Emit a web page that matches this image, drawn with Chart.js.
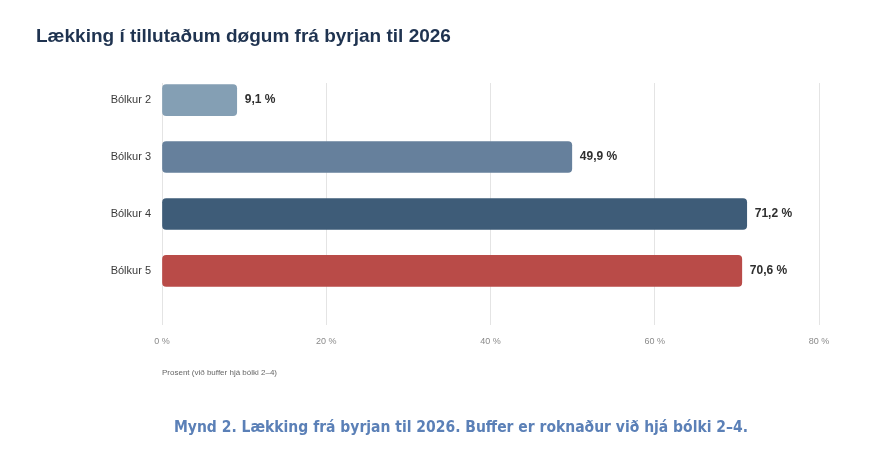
<!DOCTYPE html>
<html>
<head>
<meta charset="utf-8">
<script src="https://cdn.jsdelivr.net/npm/chart.js@4/dist/chart.umd.min.js"></script>
<style>
  html, body { margin: 0; padding: 0; background: #ffffff; }
  #wrap { position: relative; width: 890px; height: 456px; }
  #c { position: absolute; left: 0; top: 0; }
  #caption {
    position: absolute; left: 32px; width: 858px; top: 416px;
    text-align: center; color: #5b80b7;
    font: bold 15.5px "Liberation Sans Narrow", "DejaVu Sans Condensed", "Liberation Sans", sans-serif;
    font-stretch: condensed; line-height: 22px;
  }
</style>
</head>
<body>
<div id="wrap">
  <canvas id="c" width="890" height="456"></canvas>
  <div id="caption">Mynd 2. Lækking frá byrjan til 2026. Buffer er roknaður við hjá bólki 2–4.</div>
</div>
<script>
// ---- data ----
const categories = ['Bólkur 2', 'Bólkur 3', 'Bólkur 4', 'Bólkur 5'];
const values = [9.1, 49.9, 71.2, 70.6];
const barColors = ['#849fb4', '#66809c', '#3e5c78', '#b94b48'];
const xTicks = [0, 20, 40, 60, 80];
const chartTitle = 'Lækking í tillutaðum døgum frá byrjan til 2026';
const axisTitle = 'Prosent (við buffer hjá bólki 2–4)';

const fmt = v => v.toFixed(1).replace('.', ',') + ' %';

Chart.defaults.font.family = '"Liberation Sans", Arial, sans-serif';

const valueLabels = {
  id: 'valueLabels',
  afterDatasetsDraw(chart) {
    const ctx = chart.ctx;
    const meta = chart.getDatasetMeta(0);
    ctx.save();
    ctx.font = 'bold 12px "Liberation Sans", Arial, sans-serif';
    ctx.fillStyle = '#2e2e2e';
    ctx.textAlign = 'left';
    ctx.textBaseline = 'middle';
    meta.data.forEach((el, i) => {
      ctx.fillText(fmt(values[i]), el.x + 8, el.y);
    });
    ctx.restore();
  }
};

new Chart(document.getElementById('c'), {
  type: 'bar',
  data: {
    datasets: [{
      data: values.map((v, i) => ({ x: v, y: i })),
      backgroundColor: barColors,
      borderRadius: 4,
      borderSkipped: false,
      barThickness: 31
    }]
  },
  options: {
    indexAxis: 'y',
    responsive: false,
    animation: false,
    layout: { padding: { left: 36, right: 71, top: 0, bottom: 71 } },
    plugins: {
      legend: { display: false },
      tooltip: { enabled: false },
      title: {
        display: true,
        text: chartTitle,
        align: 'start',
        color: '#1f3350',
        font: { size: 19, weight: 'bold', lineHeight: 1.2 },
        padding: { top: 25, bottom: 35.2 }
      }
    },
    scales: {
      x: {
        type: 'linear',
        min: 0,
        max: 80,
        bounds: 'data',
        offset: false,
        afterBuildTicks: s => { s.ticks = xTicks.map(v => ({ value: v })); },
        afterFit: s => { s.height = 60; },
        ticks: {
          callback: v => v + ' %',
          color: '#8a8a8a',
          font: { size: 9 },
          padding: 11,
          maxRotation: 0
        },
        grid: { color: '#e4e4e4', drawTicks: false, lineWidth: 1, offset: false },
        border: { display: false },
        title: {
          display: true,
          text: axisTitle,
          align: 'start',
          color: '#666666',
          font: { size: 8, lineHeight: 1.2 },
          padding: { top: 0, bottom: 7 }
        }
      },
      y: {
        type: 'linear',
        reverse: true,
        min: -0.3,
        max: 3.95,
        bounds: 'data',
        grace: 0,
        offset: false,
        afterBuildTicks: s => { s.ticks = categories.map((c, i) => ({ value: i })); },
        afterFit: s => { s.width = 126; },
        ticks: {
          callback: v => categories[v],
          color: '#3a3a3a',
          font: { size: 11 },
          padding: 11
        },
        grid: { display: false, drawTicks: false, offset: false },
        border: { display: false }
      }
    }
  },
  plugins: [valueLabels]
});
</script>
</body>
</html>
